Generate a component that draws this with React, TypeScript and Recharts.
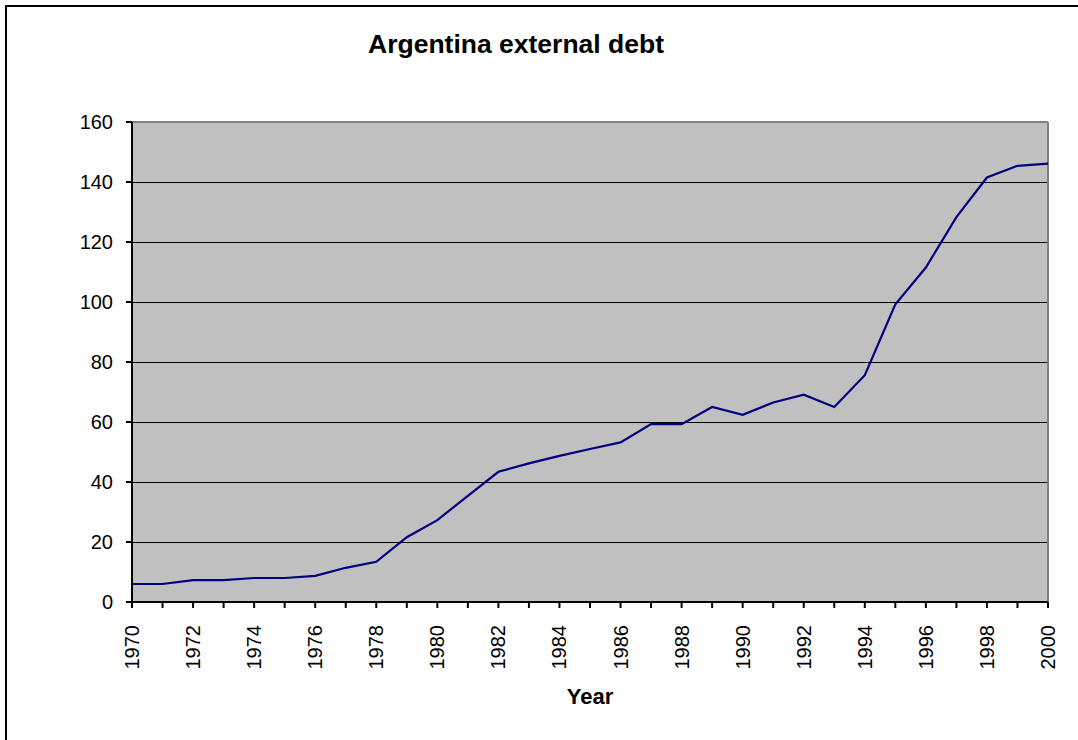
import { LineChart, Line, XAxis, YAxis, CartesianGrid, ReferenceLine } from "recharts"

// Argentina external debt, billions of US$
const years = [
  1970, 1971, 1972, 1973, 1974, 1975, 1976, 1977, 1978, 1979, 1980, 1981, 1982, 1983, 1984, 1985,
  1986, 1987, 1988, 1989, 1990, 1991, 1992, 1993, 1994, 1995, 1996, 1997, 1998, 1999, 2000,
]
const debt = [
  6.0, 6.0, 7.3, 7.3, 8.0, 8.0, 8.7, 11.4, 13.4, 21.6, 27.3, 35.4, 43.4, 46.2, 48.7, 51.0,
  53.2, 59.3, 59.3, 65.0, 62.4, 66.5, 69.1, 65.0, 75.6, 99.2, 111.5, 128.3, 141.5, 145.4, 146.1,
]
const yTicks = [0, 20, 40, 60, 80, 100, 120, 140, 160]

const data = years.map((year, i) => ({ year, debt: debt[i] }))

const FONT = '"Liberation Sans", Arial, sans-serif'

// rotated year labels, only every other year gets text
const YearTick = (props: any) => {
  const { x, y, payload } = props
  if (payload.value % 2 !== 0) return <g />
  return (
    <g transform={`translate(${x},${y + 15})`}>
      <text
        transform="rotate(-90)"
        textAnchor="end"
        dy="0.35em"
        fill="#000"
        fontSize={20}
        fontFamily={FONT}
      >
        {payload.value}
      </text>
    </g>
  )
}

export default function App() {
  return (
    <div
      style={{
        position: "absolute",
        left: 0,
        top: 0,
        width: 1078,
        height: 740,
        overflow: "hidden",
        background: "#fff",
        fontFamily: FONT,
      }}
    >
      <div
        style={{
          position: "absolute",
          left: 5,
          top: 5,
          width: 1200,
          height: 900,
          borderTop: "2px solid #000",
          borderLeft: "2px solid #000",
          boxSizing: "border-box",
        }}
      />
      <div
        style={{
          position: "absolute",
          left: 0,
          top: 31,
          width: 1032,
          textAlign: "center",
          fontSize: 26.5,
          lineHeight: "26px",
          fontWeight: "bold",
          color: "#000",
        }}
      >
        Argentina external debt
      </div>
      <div style={{ position: "absolute", left: 0, top: 0 }}>
        <LineChart width={1078} height={740} data={data} margin={{ top: 122, right: 30, left: 0, bottom: 28 }}>
          <CartesianGrid
            horizontal
            vertical={false}
            stroke="#000"
            strokeWidth={1}
            fill="#c0c0c0"
            fillOpacity={1}
            shapeRendering="crispEdges"
          />
          <XAxis
            dataKey="year"
            type="number"
            domain={[1970, 2000]}
            ticks={years}
            interval={0}
            height={110}
            tickSize={6}
            axisLine={{ stroke: "#000", strokeWidth: 2 }}
            tickLine={{ stroke: "#000", strokeWidth: 2 }}
            tick={<YearTick />}
            label={{
              value: "Year",
              position: "insideBottom",
              offset: 8,
              fontSize: 22,
              fontWeight: "bold",
              fill: "#000",
              fontFamily: FONT,
            }}
          />
          <YAxis
            type="number"
            domain={[0, 160]}
            ticks={yTicks}
            interval={0}
            width={132}
            tickSize={6}
            tickMargin={13}
            axisLine={{ stroke: "#000", strokeWidth: 2 }}
            tickLine={{ stroke: "#000", strokeWidth: 2 }}
            tick={{ fill: "#000", fontSize: 20, fontFamily: FONT }}
          />
          <ReferenceLine y={160} stroke="#808080" strokeWidth={2} />
          <ReferenceLine x={2000} stroke="#808080" strokeWidth={2} />
          <Line
            type="linear"
            dataKey="debt"
            stroke="#000080"
            strokeWidth={2.2}
            dot={false}
            isAnimationActive={false}
          />
        </LineChart>
      </div>
    </div>
  )
}
